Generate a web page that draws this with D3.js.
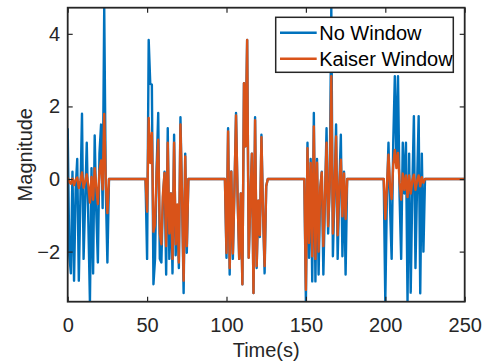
<!DOCTYPE html>
<html>
<head>
<meta charset="utf-8">
<title>No Window vs Kaiser Window</title>
<script src="https://d3js.org/d3.v7.min.js"></script>
<style>
    body {
        margin: 0;
        background: #fff;
    }
    svg {
        display: block;
        font-family: "Liberation Sans", Arial, sans-serif;
    }
    .tick line {
        stroke: #262626;
        stroke-width: 1.2;
    }
    .tick text {
        font-size: 20px;
        fill: #262626;
    }
    .series {
        fill: none;
        stroke-width: 2.4;
        stroke-linejoin: round;
    }
</style>
</head>
<body>
<div id="chart"></div>
<script>
    // sample index = time in s, zero between bursts
    const burstStarts = [0, 50, 100, 150, 200];
    const tEnd = 250;

    const noWindow = [
        [1.4, -2.1, -2.6, 0.2, -2.8, -0.3, 0.55, -2.8, -0.5, 1.8, -2.2, -0.6, 1.0, -1.2, -3.38, 0.3, -2.6, 1.2, -0.9, -2.3, 0.7, 1.5, -0.8, 4.72, -0.3, -2.3],
        [-2.2, 3.83, 2.62, 2.6, -2.9, -2.2, 0.3, 1.82, -2.2, -2.3, -0.5, 0.2, -2.63, 1.4, -2.2, -0.4, -2.6, 1.22, -2.1, -0.8, -2.45, 1.7, -0.5, -3.14, 0.7, -2.03],
        [-2.17, 1.4, -2.63, 0.21, -2.2, -0.3, 1.82, -0.5, -2.2, -0.4, -2.9, 2.64, 0.9, 3.83, -2.17, -0.6, 0.7, -3.14, 1.7, -2.45, -0.6, -1.6, 1.22, -0.9, -2.6, -0.2],
        [-3.37, 1.0, -2.17, 0.55, -2.82, 1.82, -2.82, 0.55, -2.63, -0.3, 0.2, -2.63, -0.6, 1.4, -1.5, -0.2, 4.72, -2.13, -0.4, 1.5, -2.2, -0.3, 1.22, -2.13, 0.2, -2.63],
        [-3.37, -0.5, 1.0, -0.8, -2.2, 1.0, 2.83, 0.5, 2.83, -0.5, -2.2, 1.0, -0.4, 1.0, -3.37, 0.7, -3.13, -0.3, 1.73, -2.45, -0.2, 1.73, -3.15, 0.7, -2.0, 0]
    ];

    const kaiserWindow = [
        [0.04, -0.08, -0.13, 0.01, -0.17, -0.02, 0.04, -0.25, -0.05, 0.18, -0.24, -0.07, 0.13, -0.18, -0.65, 0.06, -0.57, 0.3, -0.24, -0.69, 0.22, 0.51, -0.29, 1.79, -0.12, -0.94],
        [-0.9, 1.68, 0.44, 1.27, -1.45, -1.25, 0.2, 1.08, -1.5, -1.8, -0.4, 0.17, -1.85, 1.0, -1.5, -0.4, -2.2, 1.0, -1.8, -0.7, -2.3, 1.5, -0.5, -2.8, 0.62, -1.85],
        [-2.04, 1.31, -2.45, 0.2, -2.05, -0.3, 1.75, -0.5, -2.2, -0.4, -2.9, 2.64, 0.9, 3.83, -2.17, -0.6, 0.7, -3.14, 1.62, -2.4, -0.6, -1.55, 1.15, -0.9, -2.4, -0.2],
        [-3.05, 0.85, -1.76, 0.44, -2.13, 1.45, -2.2, 0.45, -2.0, -0.25, 0.18, -1.85, -0.5, 1.0, -1.3, -0.15, 2.83, -1.5, -0.3, 1.17, -1.55, -0.2, 0.53, -1.03, 0.15, -1.1],
        [-1.1, -0.2, 0.67, -0.2, -0.55, 0.4, 0.8, 0.3, 0.72, -0.1, -0.57, 0.15, -0.3, 0.1, -0.5, 0.1, -0.4, -0.05, 0.12, -0.3, -0.05, 0.1, -0.2, 0.05, -0.1, 0]
    ];

    const seriesNames = ["No Window", "Kaiser Window"];
    const seriesColors = ["#0072BD", "#D95319"];
    const xTicks = [0, 50, 100, 150, 200, 250];
    const yTicks = [-2, 0, 2, 4];

    const width = 490, height = 363;
    const margin = {top: 7.7, right: 25.3, bottom: 61.3, left: 67.7};
    const innerW = width - margin.left - margin.right;
    const innerH = height - margin.top - margin.bottom;

    function buildSeries(bursts) {
        const pts = [];
        for (let t = 0; t <= tEnd; t++) pts.push({t: t, v: 0});
        bursts.forEach((vals, i) => {
            vals.forEach((v, k) => { pts[burstStarts[i] + k].v = v; });
        });
        return pts;
    }

    const series = [buildSeries(noWindow), buildSeries(kaiserWindow)];

    const x = d3.scaleLinear().domain([0, tEnd]).range([0, innerW]);
    const y = d3.scaleLinear().domain(d3.extent(series[0], d => d.v)).range([innerH, 0]);

    const svg = d3.select("#chart")
        .append("svg")
        .attr("width", width)
        .attr("height", height);

    const g = svg.append("g")
        .attr("transform", `translate(${margin.left},${margin.top})`);

    g.append("clipPath")
        .attr("id", "plot-clip")
        .append("rect")
        .attr("width", innerW)
        .attr("height", innerH);

    const line = d3.line()
        .x(d => x(d.t))
        .y(d => y(d.v));

    g.append("g")
        .attr("clip-path", "url(#plot-clip)")
        .selectAll("path")
        .data(series)
        .enter()
        .append("path")
        .attr("class", "series")
        .attr("stroke", (d, i) => seriesColors[i])
        .attr("d", line);

    // axes, ticks pointing inward
    g.append("g")
        .attr("transform", `translate(0,${innerH})`)
        .call(d3.axisBottom(x).tickValues(xTicks).tickSizeInner(-5).tickSizeOuter(0).tickPadding(15.8));
    g.append("g")
        .call(d3.axisTop(x).tickValues(xTicks).tickSizeInner(-5).tickSizeOuter(0).tickFormat(""));
    g.append("g")
        .call(d3.axisLeft(y).tickValues(yTicks).tickSizeInner(-5).tickSizeOuter(0).tickPadding(7.7));
    g.append("g")
        .attr("transform", `translate(${innerW},0)`)
        .call(d3.axisRight(y).tickValues(yTicks).tickSizeInner(-5).tickSizeOuter(0).tickFormat(""));

    g.selectAll(".domain").remove();
    g.selectAll(".tick text").attr("font-family", null).attr("font-size", null);

    g.append("rect")
        .attr("width", innerW)
        .attr("height", innerH)
        .attr("fill", "none")
        .attr("stroke", "#262626")
        .attr("stroke-width", 1.8);

    // axis labels
    svg.append("text")
        .attr("x", margin.left + innerW / 2)
        .attr("y", 357)
        .attr("text-anchor", "middle")
        .attr("font-size", 20)
        .attr("fill", "#262626")
        .text("Time(s)");

    svg.append("text")
        .attr("transform", `translate(32,${margin.top + innerH / 2}) rotate(-90)`)
        .attr("text-anchor", "middle")
        .attr("font-size", 20)
        .attr("fill", "#262626")
        .text("Magnitude");

    // legend
    const legend = svg.append("g").attr("transform", "translate(275.7,17.3)");
    legend.append("rect")
        .attr("width", 177.6)
        .attr("height", 55)
        .attr("fill", "#fff")
        .attr("stroke", "#262626")
        .attr("stroke-width", 1.5);

    const item = legend.selectAll(".item")
        .data(seriesNames)
        .enter()
        .append("g")
        .attr("class", "item")
        .attr("transform", (d, i) => `translate(0,${15.4 + i * 26})`);
    item.append("line")
        .attr("x1", 4.3)
        .attr("x2", 41)
        .attr("stroke", (d, i) => seriesColors[i])
        .attr("stroke-width", 2.4);
    item.append("text")
        .attr("x", 43.5)
        .attr("y", 7.3)
        .attr("font-size", 20)
        .attr("fill", "#000")
        .text(d => d);
</script>
</body>
</html>
